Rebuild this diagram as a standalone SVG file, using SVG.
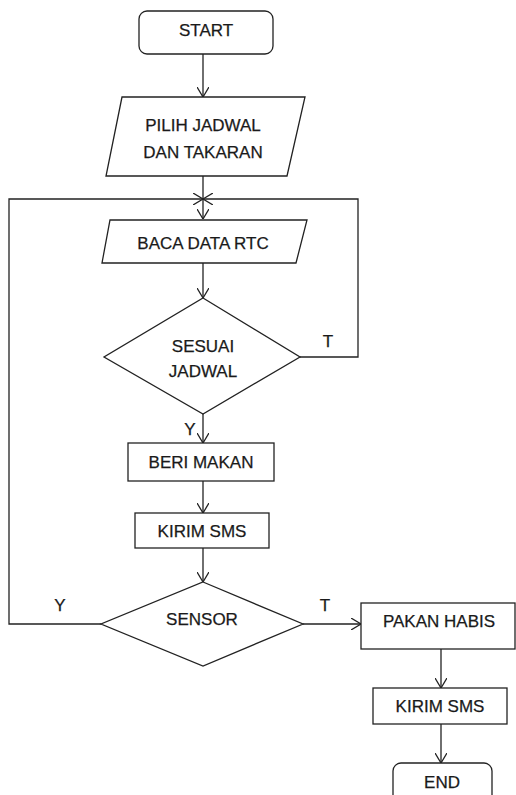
<svg xmlns="http://www.w3.org/2000/svg" width="516" height="795" viewBox="0 0 516 795">
<style>
.s{fill:#fff;stroke:#222;stroke-width:1.3}
.c{fill:none;stroke:#222;stroke-width:1.3}
text{font-family:"Liberation Sans",Arial,sans-serif;font-size:17px;fill:#1a1a1a;stroke:#1a1a1a;stroke-width:0.25}
.m{text-anchor:middle}
</style>
<defs>
<marker id="a" markerUnits="userSpaceOnUse" viewBox="0 0 10 12" refX="10" refY="6" markerWidth="10" markerHeight="12" orient="auto">
<path d="M0,0 L10,6 L0,12" fill="none" stroke="#222" stroke-width="1.3"/>
</marker>
</defs>
<rect width="516" height="795" fill="#fff"/>
<g id="connectors">
<path class="c" d="M203,54 V97" marker-end="url(#a)"/>
<path class="c" d="M203,176 V219" marker-end="url(#a)"/>
<path class="c" d="M300,357 H358 V199 H203" marker-end="url(#a)"/>
<path class="c" d="M101,624 H9 V199 H203" marker-end="url(#a)"/>
<path class="c" d="M203,263 V298" marker-end="url(#a)"/>
<path class="c" d="M203,414 V443" marker-end="url(#a)"/>
<path class="c" d="M203,481 V513" marker-end="url(#a)"/>
<path class="c" d="M203,548 V582" marker-end="url(#a)"/>
<path class="c" d="M303,624 H361" marker-end="url(#a)"/>
<path class="c" d="M441,649 V688" marker-end="url(#a)"/>
<path class="c" d="M441,724 V763" marker-end="url(#a)"/>
<text x="328" y="347" class="m">T</text>
<text x="190" y="435" class="m">Y</text>
<text x="60" y="611" class="m">Y</text>
<text x="325" y="611" class="m">T</text>
</g>
<g id="start">
<rect class="s" x="139" y="11" width="134" height="43" rx="8"/>
<text x="206" y="36" class="m">START</text>
</g>
<g id="pilih">
<polygon class="s" points="122,97 305,97 287,176 106,176"/>
<text x="203" y="131" class="m">PILIH JADWAL</text>
<text x="203" y="158" class="m">DAN TAKARAN</text>
</g>
<g id="baca">
<polygon class="s" points="110,220 307,220 296,263 102,263"/>
<text x="203" y="249" class="m">BACA DATA RTC</text>
</g>
<g id="sesuai">
<polygon class="s" points="203,298 300,357 203,414 104,357"/>
<text x="203" y="352" class="m">SESUAI</text>
<text x="203" y="377" class="m">JADWAL</text>
</g>
<g id="beri">
<rect class="s" x="128" y="443" width="146" height="38"/>
<text x="201" y="468" class="m">BERI MAKAN</text>
</g>
<g id="kirim1">
<rect class="s" x="135" y="513" width="134" height="35"/>
<text x="202" y="537" class="m">KIRIM SMS</text>
</g>
<g id="sensor">
<polygon class="s" points="203,582 303,624 203,666 101,624"/>
<text x="202" y="625" class="m">SENSOR</text>
</g>
<g id="pakan">
<rect class="s" x="361" y="603" width="154" height="46"/>
<text x="439" y="627" class="m">PAKAN HABIS</text>
</g>
<g id="kirim2">
<rect class="s" x="373" y="688" width="134" height="36"/>
<text x="440" y="712" class="m">KIRIM SMS</text>
</g>
<g id="end">
<rect class="s" x="393" y="763" width="99" height="50" rx="8"/>
<text x="442" y="788" class="m">END</text>
</g>
</svg>
